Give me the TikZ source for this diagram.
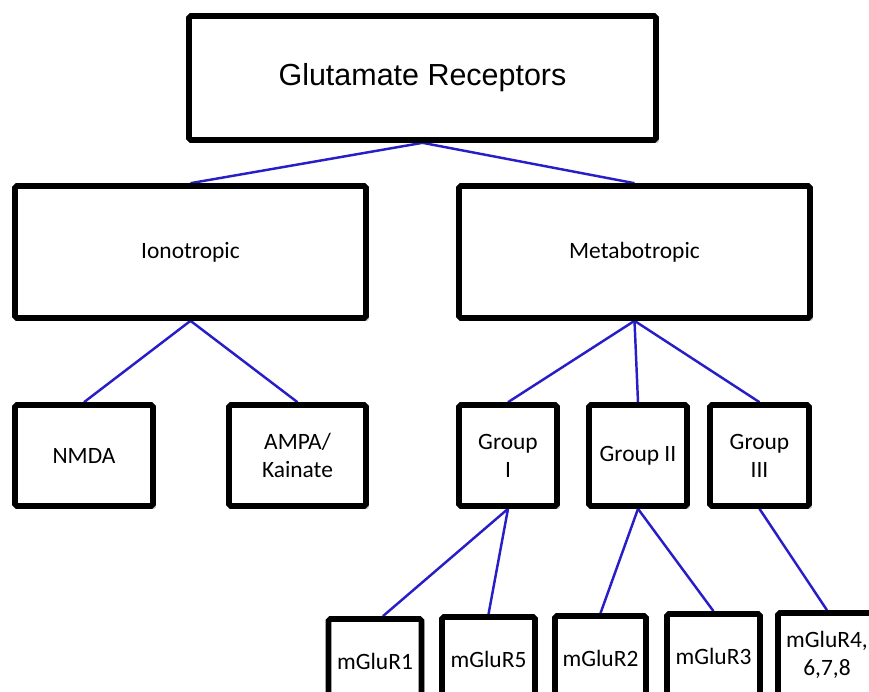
\documentclass[tikz,border=0pt]{standalone}
\usepackage{fontspec}
\setmainfont{Carlito}
\newfontfamily\headfont{Liberation Sans}
\usetikzlibrary{shadows,backgrounds}
\definecolor{linkblue}{RGB}{40,30,200}

\begin{document}
\begin{tikzpicture}[
        x=0.03cm, y=-0.03cm,
        every node/.style={font=\fontsize{20}{24}\selectfont, align=center},
        box/.style={draw, fill=white, line width=4.8pt, rounded corners=1.5pt, inner sep=0pt,
            drop shadow={shadow xshift=2.5pt, shadow yshift=-2.5pt, opacity=0.45}},
        link/.style={draw=linkblue, line width=2.1pt},
        ]
        \useasboundingbox (0,0) rectangle (869,691);
        \clip (0,0) rectangle (869,691);

        % nodes
        \node[box, minimum width=14.01cm, minimum height=3.72cm, font=\headfont\fontsize{26}{30}\selectfont] (glu) at (422.5,78) {Glutamate Receptors};

        \node[box, minimum width=10.53cm, minimum height=3.96cm] (iono)  at (190.5,252) {Ionotropic};
        \node[box, minimum width=10.53cm, minimum height=3.96cm] (metab) at (634.5,252) {Metabotropic};

        \node[box, minimum width=4.14cm, minimum height=3.03cm] (nmda) at (84,455.5)    {NMDA};
        \node[box, minimum width=4.11cm, minimum height=3.03cm] (ampa) at (297.5,455.5) {AMPA/\\Kainate};

        \node[box, minimum width=2.94cm, minimum height=3.03cm] (grp1) at (508,455.5)   {Group\\I};
        \node[box, minimum width=2.94cm, minimum height=3.03cm] (grp2) at (638,455.5)   {Group II};
        \node[box, minimum width=2.97cm, minimum height=3.03cm] (grp3) at (759.5,455.5) {Group\\III};

        \node[box, minimum width=2.79cm, minimum height=2.52cm] (m1) at (375,661)   {mGluR1};
        \node[box, minimum width=2.79cm, minimum height=2.52cm] (m5) at (488.5,659) {mGluR5};
        \node[box, minimum width=2.73cm, minimum height=2.52cm] (m2) at (600.5,658) {mGluR2};
        \node[box, minimum width=2.79cm, minimum height=2.52cm] (m3) at (713.5,656) {mGluR3};
        \node[box, minimum width=2.94cm, minimum height=2.52cm] (m4) at (827,655)   {mGluR4,\\6,7,8};

        % edges
        \begin{scope}[on background layer]
        \draw[link] (glu.south) -- (iono.north);
        \draw[link] (glu.south) -- (metab.north);

        \draw[link] (iono.south) -- (nmda.north);
        \draw[link] (iono.south) -- (ampa.north);

        \draw[link] (metab.south) -- (grp1.north);
        \draw[link] (metab.south) -- (grp2.north);
        \draw[link] (metab.south) -- (grp3.north);

        \draw[link] (grp1.south) -- (m1.80);
        \draw[link] (grp1.south) -- (m5.north);
        \draw[link] (grp2.south) -- (m2.north);
        \draw[link] (grp2.south) -- (m3.north);
        \draw[link] (grp3.south) -- (m4.north);
        \end{scope}

    \end{tikzpicture}
\end{document}
